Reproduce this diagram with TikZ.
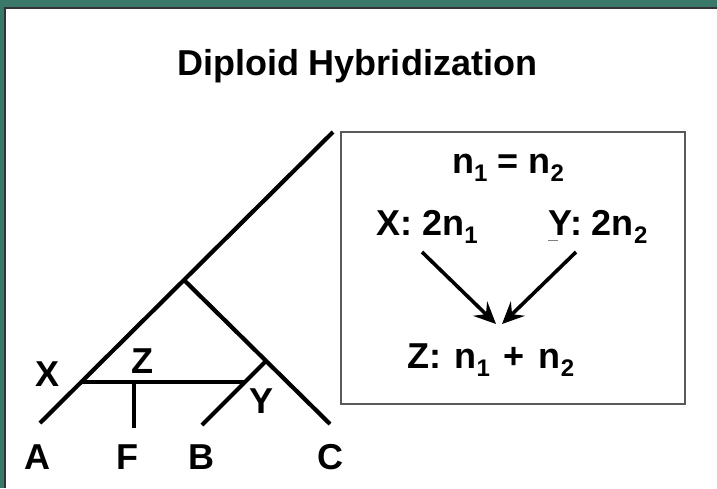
\documentclass[tikz,border=0pt]{standalone}
\usepackage{fontspec}
\setmainfont{Liberation Sans}
\usetikzlibrary{arrows.meta}
\definecolor{frame}{RGB}{58,120,106}
\newcommand\sbs[1]{\raisebox{-8pt}{\fontsize{24pt}{24pt}\selectfont #1}}
\begin{document}
\begin{tikzpicture}[x=1pt,y=-1pt,
  lbl/.style={font=\bfseries\fontsize{36pt}{38pt}\selectfont, inner sep=0pt, anchor=base},
  btxt/.style={font=\bfseries\fontsize{36pt}{38pt}\selectfont, inner sep=0pt, anchor=base},
  br/.style={line width=4.2pt, line cap=butt},
  arr/.style={line width=3.6pt, -{Stealth[length=22pt,width=20pt,inset=8pt]}}]
\useasboundingbox (0,0) rectangle (717,488);
\fill[white] (0,0) rectangle (717,488);
\fill[frame] (0,0) rectangle (717,7);
\fill[frame] (0,0) rectangle (4,488);
\draw[black!80, line width=1.5pt] (4.75,488) -- (4.75,7.75) -- (717,7.75);
% tree
\coordinate (a) at (40,423);
\coordinate (top) at (333,132);
\coordinate (root) at (185,281);
\coordinate (c) at (330,424);
\coordinate (yj) at (265,362);
\coordinate (b) at (202,425);
\coordinate (xj) at (82,382);
\coordinate (hy) at (245,382);
\coordinate (zj) at (134,382);
\coordinate (f) at (134,428);
\draw[br] (a) -- (top);
\draw[br] (root) -- (c);
\draw[br] (yj) -- (b);
\draw[br] (xj) -- (hy);
\draw[br] (zj) -- (f);
\node[lbl] (lX) at (48,386) {X};
\node[lbl] (lZ) at (142,373) {Z};
\node[lbl] (lY) at (262,413) {Y};
\node[lbl] (lA) at (37,469) {A};
\node[lbl] (lF) at (127,469) {F};
\node[lbl] (lB) at (201,469) {B};
\node[lbl] (lC) at (330,469) {C};
% title
\node[lbl] (title) at (357,75) {Diploid Hybridization};
% box
\node[draw=gray!70!black, line width=1.8pt, minimum width=344pt, minimum height=272pt, anchor=north west, inner sep=0pt] (box) at (340,131) {};
\node[btxt] (eq) at (508,173) {n\sbs{1} = n\sbs{2}};
\node[btxt] (xt) at (427,235) {X: 2n\sbs{1}};
\node[btxt] (yt) at (598,235) {Y: 2n\sbs{2}};
\node[btxt] (zt) at (491,368) {Z:\hspace{3pt} n\sbs{1}\hspace{4pt} + \hspace{4pt}n\sbs{2}};
\draw[gray, line width=1pt] (548,240) -- (558,240);
\coordinate (x0) at (422,252);
\coordinate (zl) at (496,324);
\coordinate (y0) at (576,252);
\coordinate (zr) at (502,324);
\draw[arr] (x0) -- (zl);
\draw[arr] (y0) -- (zr);
\end{tikzpicture}
\end{document}
